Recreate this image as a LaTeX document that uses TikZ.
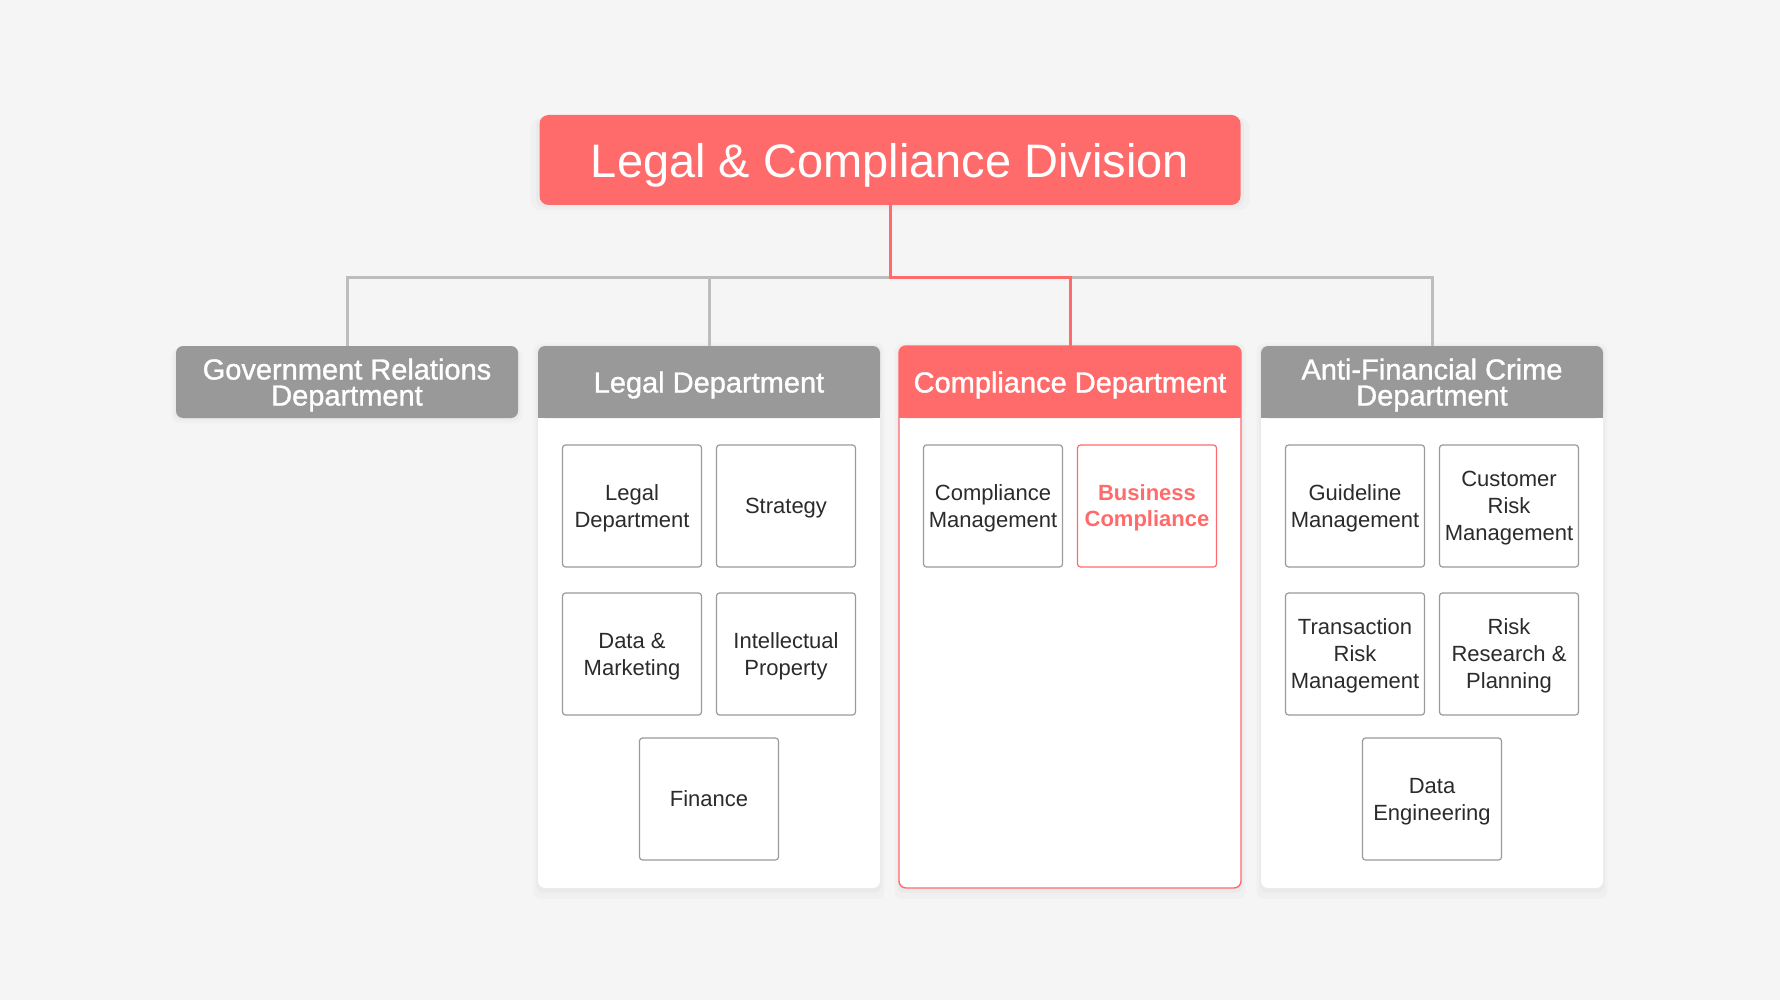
\documentclass[tikz,border=0pt]{standalone}
\usepackage{fontspec}
\setmainfont{Liberation Sans}
\newfontfamily\medfont[FakeBold=1.2]{Liberation Sans}
\usetikzlibrary{shadows}

\definecolor{bggray}{HTML}{F5F5F5}
\definecolor{coral}{HTML}{FF6B6B}
\definecolor{hdgray}{HTML}{999999}
\definecolor{lingray}{HTML}{BDBDBD}
\definecolor{boxgray}{HTML}{9A9A9A}
\definecolor{inktext}{HTML}{2B2B2B}

\tikzset{
  soft/.style={general shadow={fill=black,opacity=.018,shadow yshift=-4pt,shadow scale=1.025},
               general shadow={fill=black,opacity=.025,shadow yshift=-2pt,shadow scale=1.01}},
  gline/.style={draw=lingray,line width=3pt},
  rline/.style={draw=coral,line width=3pt}
}

\begin{document}
\begin{tikzpicture}[x=1pt,y=-1pt,outer sep=0pt,
  division/.style={fill=coral,rounded corners=9pt,minimum width=701pt,minimum height=90pt,
    text=white,text depth=0pt,font=\fontsize{47}{50}\selectfont,soft},
  header/.style={fill=hdgray,rounded corners=7pt,minimum width=342pt,minimum height=72pt,
    text=white,text depth=0pt,align=center,font=\medfont\fontsize{29}{26}\selectfont},
  panel/.style={fill=white,rounded corners=7pt,minimum width=342pt,minimum height=542pt,soft},
  unit/.style={draw=boxgray,line width=1.2pt,fill=white,rounded corners=3pt,minimum width=139pt,
    minimum height=122pt,align=center,text=inktext,text depth=0pt,font=\fontsize{22}{27}\selectfont}]
  \fill[bggray] (0,0) rectangle (1780,1000);
  \useasboundingbox (0,0) rectangle (1780,1000);

  % top of the tree
  \node[division] (div) at (890,160) {Legal \& Compliance Division};

  % departments
  \node[header,soft] (gov) at (347,382) {Government Relations\\Department};

  \node[panel] (legalbox) at (709,617) {};
  \fill[hdgray] ([yshift=-36pt]legalbox.north west) rectangle ([yshift=-72pt]legalbox.north east);
  \node[header,anchor=north] (legal) at (legalbox.north) {Legal Department};

  \node[panel,draw=coral,line width=1.4pt] (compbox) at (1070,617) {};
  \fill[coral] ([yshift=-36pt]compbox.north west) rectangle ([yshift=-72pt]compbox.north east);
  \node[header,fill=coral,anchor=north] (comp) at (compbox.north) {Compliance Department};

  \node[panel] (afcbox) at (1432,617) {};
  \fill[hdgray] ([yshift=-36pt]afcbox.north west) rectangle ([yshift=-72pt]afcbox.north east);
  \node[header,anchor=north] (afc) at (afcbox.north) {Anti-Financial Crime\\Department};

  % legal units
  \node[unit] (ld) at (632,506) {Legal\\Department};
  \node[unit] (strat) at (786,506) {Strategy};
  \node[unit] (dm) at (632,654) {Data \&\\Marketing};
  \node[unit] (ip) at (786,654) {Intellectual\\Property};
  \node[unit] (fin) at (709,799) {Finance};

  % compliance units
  \node[unit] (cm) at (993,506) {Compliance\\Management};
  \node[unit,draw=coral,text=coral,font=\bfseries\fontsize{22}{26}\selectfont] (bc) at (1147,506) {Business\\Compliance};

  % anti-financial crime units
  \node[unit] (gm) at (1355,506) {Guideline\\Management};
  \node[unit] (crm) at (1509,506) {Customer\\Risk\\Management};
  \node[unit] (trm) at (1355,654) {Transaction\\Risk\\Management};
  \node[unit] (rrp) at (1509,654) {Risk\\Research \&\\Planning};
  \node[unit] (de) at (1432,799) {Data\\Engineering};

  % connectors
  \coordinate (bus) at (890,278);
  \draw[gline] (gov.north) |- (bus) -| (afc.north);
  \draw[gline] (legal.north) -- (legal.north |- bus);
  \draw[rline] (div.south) -- (bus) -| (comp.north);
\end{tikzpicture}
\end{document}
